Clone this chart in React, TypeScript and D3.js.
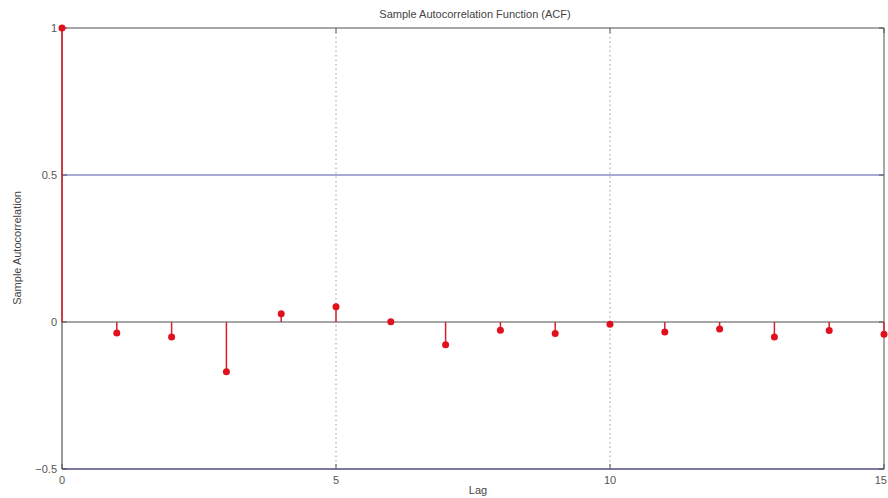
import React from "react";
import * as d3 from "d3";

// ACF values, lags 0..15
const lags = [0, 1, 2, 3, 4, 5, 6, 7, 8, 9, 10, 11, 12, 13, 14, 15];
const acf = [1, -0.037, -0.051, -0.169, 0.028, 0.052, 0.001, -0.077, -0.028, -0.039, -0.008, -0.034, -0.024, -0.051, -0.029, -0.042];
const bounds = [0.5, -0.5];
const xTicks = [0, 5, 10, 15];
const yTicks = [-0.5, 0, 0.5, 1];

const W = 888;
const H = 498;
const left = 62;
const right = 884;
const top = 28;
const bottom = 469;

const font = "'Liberation Sans', Arial, sans-serif";

const App = () => {
  const x = d3.scaleLinear().domain([0, 15]).range([left, right]);
  const y = d3.scaleLinear().domain([-0.5, 1]).range([bottom, top]);

  return (
    <svg width={W} height={H} style={{ position: "absolute", left: 0, top: 0, background: "#fff" }}>
      {/* dotted vertical grid */}
      {xTicks.slice(1, 3).map((t) => (
        <line key={"g" + t} x1={x(t)} x2={x(t)} y1={top} y2={bottom} stroke="#9a9aa8" strokeWidth={1} strokeDasharray="1.5,3" />
      ))}
      {/* confidence bounds */}
      {bounds.map((b) => (
        <line key={"b" + b} x1={left} x2={right} y1={y(b)} y2={y(b)} stroke="#8c8cc8" strokeWidth={1.5} />
      ))}
      {/* zero line */}
      <line x1={left} x2={right} y1={y(0)} y2={y(0)} stroke="#8a8a8a" strokeWidth={1.5} />
      {/* box */}
      <line x1={left} x2={right} y1={top} y2={top} stroke="#8a8a8a" strokeWidth={1.5} />
      <line x1={right} x2={right} y1={top} y2={bottom} stroke="#8a8a8a" strokeWidth={1.5} />
      <line x1={left} x2={left} y1={top} y2={bottom} stroke="#777" strokeWidth={1.5} />
      <line x1={left} x2={right} y1={bottom} y2={bottom} stroke="#6a6a90" strokeWidth={1.5} />
      {/* ticks */}
      {xTicks.map((t, i) => (
        <g key={"xt" + t}>
          <line x1={x(t)} x2={x(t)} y1={bottom} y2={bottom - 5} stroke="#555" />
          <line x1={x(t)} x2={x(t)} y1={top} y2={top + 5} stroke="#555" />
          <text
            x={i === xTicks.length - 1 ? W - 1 : x(t)}
            y={bottom + 15}
            textAnchor={i === xTicks.length - 1 ? "end" : "middle"}
            fontSize={11}
            fill="#555"
            fontFamily={font}
          >
            {t}
          </text>
        </g>
      ))}
      {yTicks.map((t) => (
        <g key={"yt" + t}>
          <line x1={left} x2={left + 5} y1={y(t)} y2={y(t)} stroke="#555" />
          <line x1={right} x2={right - 5} y1={y(t)} y2={y(t)} stroke="#555" />
          <text x={left - 5} y={y(t) + 4} textAnchor="end" fontSize={11} fill="#555" fontFamily={font}>{t === -0.5 ? "\u22120.5" : t}</text>
        </g>
      ))}
      {/* stems */}
      {lags.map((l, i) => (
        <g key={"s" + l}>
          <line x1={x(l)} x2={x(l)} y1={y(0)} y2={y(acf[i])} stroke="#d8202a" strokeWidth={1.5} />
          <circle cx={x(l)} cy={y(acf[i])} r={3.5} fill="#e0101c" />
        </g>
      ))}
      {/* labels */}
      <text x={475} y={18} textAnchor="middle" fontSize={11} fill="#444" fontFamily={font}>Sample Autocorrelation Function (ACF)</text>
      <text x={478} y={494} textAnchor="middle" fontSize={11} fill="#444" fontFamily={font}>Lag</text>
      <text transform="translate(21,248) rotate(-90)" textAnchor="middle" fontSize={11} fill="#444" fontFamily={font}>Sample Autocorrelation</text>
    </svg>
  );
};

export default App;
